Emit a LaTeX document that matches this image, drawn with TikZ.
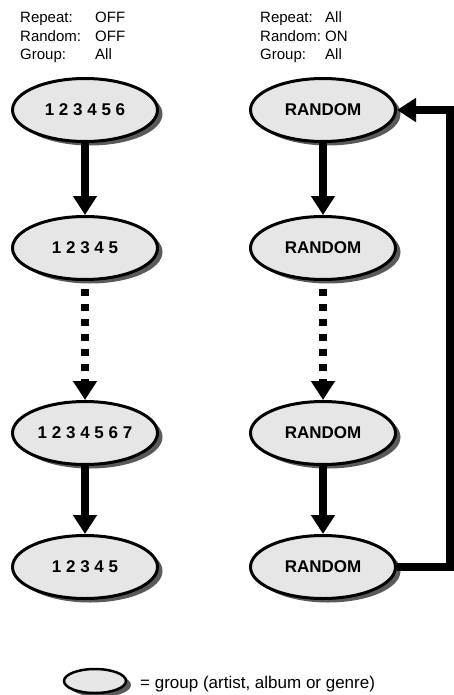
\documentclass[tikz,border=0pt]{standalone}
\usepackage{fontspec}
\setmainfont{Liberation Sans}
\usetikzlibrary{arrows.meta,positioning,shapes.geometric,shadows}

\begin{document}
\begin{tikzpicture}[x=1pt,y=-1pt,
  grp/.style={ellipse,draw=black,line width=3pt,fill=grpgray,minimum width=145pt,minimum height=63pt,
    font=\fontsize{17}{20}\selectfont\bfseries,
    drop shadow={shadow xshift=5pt,shadow yshift=-4pt,fill=shadowgray,opacity=1}},
  head/.style={anchor=base west,inner sep=0pt,font=\fontsize{15}{18}\selectfont},
  flow/.style={-{Triangle[width=23pt,length=19pt]},line width=8pt,draw=black},
  dflow/.style={flow,dash pattern=on 7pt off 8pt,dash phase=7pt}]
\definecolor{grpgray}{RGB}{230,230,230}
\definecolor{shadowgray}{RGB}{90,90,90}
\useasboundingbox (0,0) rectangle (454,695);
% settings above each column
\node[head] (repL) at (20,23) {Repeat:};   \node[head] (repLv) at (95,23) {OFF};
\node[head] (rndL) at (20,42) {Random:};   \node[head] (rndLv) at (95,42) {OFF};
\node[head] (grpL) at (20,60) {Group:};    \node[head] (grpLv) at (95,60) {All};
\node[head] (repR) at (260,23) {Repeat:};  \node[head] (repRv) at (325,23) {All};
\node[head] (rndR) at (260,42) {Random:};  \node[head] (rndRv) at (325,42) {ON};
\node[head] (grpR) at (260,60) {Group:};   \node[head] (grpRv) at (325,60) {All};
% left column: repeat off
\node[grp] (l1) at (85,110) {1 2 3 4 5 6};
\node[grp] (l2) at (85,248) {1 2 3 4 5};
\node[grp] (l3) at (85,433) {1 2 3 4 5 6 7};
\node[grp] (l4) at (85,567) {1 2 3 4 5};
\draw[flow] (l1)--(l2); \draw[dflow] (l2)--(l3); \draw[flow] (l3)--(l4);
% right column: repeat all, random on
\node[grp] (r1) at (323,110) {RANDOM};
\node[grp] (r2) at (323,248) {RANDOM};
\node[grp] (r3) at (323,433) {RANDOM};
\node[grp] (r4) at (323,567) {RANDOM};
\draw[flow] (r1)--(r2); \draw[dflow] (r2)--(r3); \draw[flow] (r3)--(r4);
\draw[flow] (r4.east)--++(53,0)|-(r1.east);
% legend
\node[grp,minimum width=62pt,minimum height=24pt,line width=2.5pt] (key) at (95,681) {};
\node[anchor=base west,inner sep=0pt,font=\fontsize{17}{20}\selectfont] (keytxt) at (140,688) {= group (artist, album or genre)};
\end{tikzpicture}
\end{document}
